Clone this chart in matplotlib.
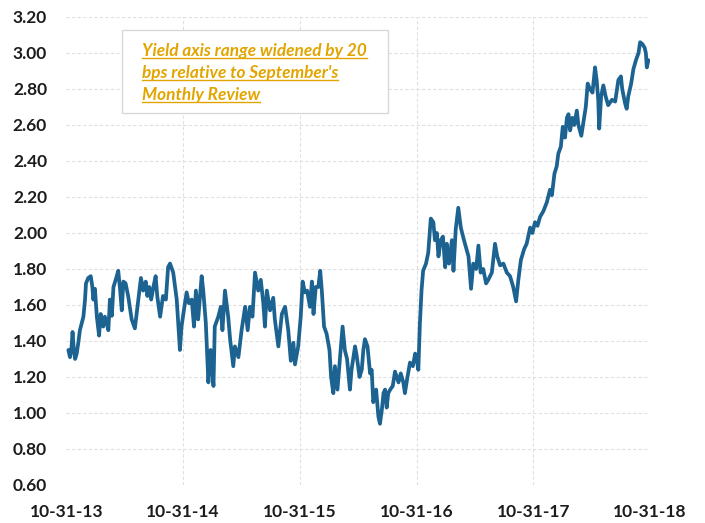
import matplotlib
matplotlib.use("Agg")
import matplotlib.pyplot as plt
import pandas as pd
from matplotlib.lines import Line2D
from matplotlib.patches import Rectangle

# Five-year yield, sampled observations
dates = [
    "2013-11-06", "2013-11-11", "2013-11-16", "2013-11-19", "2013-11-23", "2013-11-27",
    "2013-12-02", "2013-12-07", "2013-12-12", "2013-12-23", "2013-12-28", "2013-12-31",
    "2014-01-07", "2014-01-15", "2014-01-20", "2014-01-23", "2014-01-28", "2014-02-03",
    "2014-02-10", "2014-02-15", "2014-02-23", "2014-02-28", "2014-03-06", "2014-03-11",
    "2014-03-16", "2014-03-22", "2014-03-27", "2014-04-03", "2014-04-11", "2014-04-17",
    "2014-04-22", "2014-04-27", "2014-05-04", "2014-05-12", "2014-05-23", "2014-06-02",
    "2014-06-13", "2014-06-21", "2014-06-28", "2014-07-06", "2014-07-11", "2014-07-17",
    "2014-07-23", "2014-07-30", "2014-08-06", "2014-08-11", "2014-08-20", "2014-08-29",
    "2014-09-07", "2014-09-14", "2014-09-20", "2014-09-30", "2014-10-11", "2014-10-21",
    "2014-10-26", "2014-11-04", "2014-11-11", "2014-11-18", "2014-11-27", "2014-12-04",
    "2014-12-10", "2014-12-17", "2014-12-28", "2015-01-02", "2015-01-10", "2015-01-18",
    "2015-01-25", "2015-02-03", "2015-02-07", "2015-02-18", "2015-02-26", "2015-03-03",
    "2015-03-11", "2015-03-21", "2015-03-27", "2015-04-06", "2015-04-11", "2015-04-22",
    "2015-05-02", "2015-05-13", "2015-05-21", "2015-05-28", "2015-06-05", "2015-06-13",
    "2015-06-23", "2015-07-01", "2015-07-09", "2015-07-14", "2015-07-20", "2015-07-30",
    "2015-08-09", "2015-08-14", "2015-08-25", "2015-09-05", "2015-09-15", "2015-09-25",
    "2015-10-03", "2015-10-11", "2015-10-16", "2015-10-26", "2015-11-03", "2015-11-09",
    "2015-11-16", "2015-11-23", "2015-12-02", "2015-12-08", "2015-12-13", "2015-12-20",
    "2015-12-28", "2016-01-03", "2016-01-08", "2016-01-15", "2016-01-23", "2016-02-01",
    "2016-02-06", "2016-02-13", "2016-02-18", "2016-02-26", "2016-03-05", "2016-03-13",
    "2016-03-20", "2016-03-27", "2016-04-05", "2016-04-10", "2016-04-21", "2016-04-26",
    "2016-05-05", "2016-05-12", "2016-05-17", "2016-05-22", "2016-05-30", "2016-06-07",
    "2016-06-12", "2016-06-17", "2016-06-26", "2016-07-03", "2016-07-08", "2016-07-14",
    "2016-07-19", "2016-07-24", "2016-07-29", "2016-08-03", "2016-08-09", "2016-08-17",
    "2016-08-24", "2016-09-04", "2016-09-11", "2016-09-19", "2016-09-24", "2016-10-02",
    "2016-10-10", "2016-10-19", "2016-10-26", "2016-10-31", "2016-11-05", "2016-11-10",
    "2016-11-15", "2016-11-20", "2016-11-29", "2016-12-06", "2016-12-14", "2016-12-22",
    "2016-12-27", "2017-01-02", "2017-01-07", "2017-01-14", "2017-01-21", "2017-01-28",
    "2017-02-02", "2017-02-09", "2017-02-18", "2017-02-23", "2017-03-02", "2017-03-10",
    "2017-03-18", "2017-03-25", "2017-03-31", "2017-04-11", "2017-04-19", "2017-04-26",
    "2017-05-05", "2017-05-12", "2017-05-19", "2017-05-27", "2017-06-05", "2017-06-12",
    "2017-06-23", "2017-07-03", "2017-07-10", "2017-07-19", "2017-07-29", "2017-08-09",
    "2017-08-19", "2017-08-29", "2017-09-07", "2017-09-14", "2017-09-22", "2017-10-02",
    "2017-10-10", "2017-10-21", "2017-10-28", "2017-11-05", "2017-11-13", "2017-11-21",
    "2017-12-01", "2017-12-12", "2017-12-22", "2017-12-28", "2018-01-05", "2018-01-12",
    "2018-01-17", "2018-01-25", "2018-01-31", "2018-02-07", "2018-02-13", "2018-02-18",
    "2018-02-23", "2018-03-02", "2018-03-08", "2018-03-16", "2018-03-21", "2018-03-30",
    "2018-04-06", "2018-04-13", "2018-04-19", "2018-04-26", "2018-05-04", "2018-05-12",
    "2018-05-17", "2018-05-22", "2018-05-25", "2018-05-31", "2018-06-07", "2018-06-14",
    "2018-06-22", "2018-07-04", "2018-07-14", "2018-07-24", "2018-08-01", "2018-08-05",
    "2018-08-14", "2018-08-19", "2018-08-24", "2018-09-02", "2018-09-09", "2018-09-17",
    "2018-09-25", "2018-09-30", "2018-10-07", "2018-10-14", "2018-10-18", "2018-10-21",
    "2018-10-26",
]

yields = [
    1.35, 1.31, 1.37, 1.45, 1.35, 1.30,
    1.33, 1.39, 1.46, 1.535, 1.63, 1.72,
    1.75, 1.76, 1.70, 1.63, 1.69, 1.535,
    1.43, 1.55, 1.48, 1.535, 1.50, 1.46,
    1.63, 1.54, 1.70, 1.74, 1.79, 1.68,
    1.57, 1.73, 1.72, 1.65, 1.52, 1.47,
    1.63, 1.75, 1.68, 1.73, 1.65, 1.70,
    1.63, 1.70, 1.76, 1.65, 1.535, 1.65,
    1.63, 1.81, 1.83, 1.78, 1.63, 1.35,
    1.48, 1.59, 1.67, 1.61, 1.63, 1.48,
    1.68, 1.52, 1.76, 1.68, 1.50, 1.17,
    1.35, 1.15, 1.48, 1.535, 1.59, 1.46,
    1.68, 1.535, 1.41, 1.26, 1.37, 1.31,
    1.46, 1.59, 1.46, 1.59, 1.535, 1.78,
    1.68, 1.74, 1.61, 1.48, 1.68, 1.57,
    1.64, 1.52, 1.37, 1.55, 1.59, 1.46,
    1.29, 1.39, 1.27, 1.37, 1.535, 1.73,
    1.67, 1.68, 1.59, 1.73, 1.55, 1.70,
    1.70, 1.79, 1.68, 1.48, 1.44, 1.35,
    1.20, 1.11, 1.26, 1.13, 1.31, 1.48,
    1.35, 1.30, 1.13, 1.24, 1.37, 1.32,
    1.20, 1.24, 1.35, 1.41, 1.37, 1.22,
    1.24, 1.06, 1.13, 0.98, 0.94, 1.02,
    1.11, 1.13, 1.03, 1.11, 1.13, 1.15,
    1.23, 1.17, 1.22, 1.17, 1.11, 1.20,
    1.28, 1.26, 1.33, 1.30, 1.24, 1.50,
    1.68, 1.79, 1.83, 1.89, 2.08, 2.06,
    1.96, 2.00, 1.87, 1.96, 1.98, 1.81,
    1.94, 1.83, 1.96, 1.79, 2.02, 2.14,
    2.03, 1.98, 1.94, 1.87, 1.69, 1.83,
    1.80, 1.93, 1.78, 1.80, 1.72, 1.74,
    1.78, 1.94, 1.87, 1.82, 1.83, 1.78,
    1.76, 1.70, 1.62, 1.74, 1.85, 1.91,
    1.94, 2.03, 2.00, 2.06, 2.04, 2.09,
    2.12, 2.17, 2.24, 2.21, 2.33, 2.37,
    2.44, 2.48, 2.59, 2.53, 2.64, 2.66,
    2.57, 2.64, 2.60, 2.68, 2.60, 2.54,
    2.62, 2.70, 2.83, 2.80, 2.78, 2.92,
    2.85, 2.74, 2.58, 2.76, 2.82, 2.76,
    2.71, 2.74, 2.73, 2.85, 2.87, 2.80,
    2.72, 2.69, 2.76, 2.83, 2.91, 2.96,
    3.00, 3.06, 3.05, 3.03, 3.00, 2.92,
    2.96,
]

tick_dates = ["2013-10-31", "2014-10-31", "2015-10-31", "2016-10-31", "2017-10-31", "2018-10-31"]
tick_labels = ["10-31-13", "10-31-14", "10-31-15", "10-31-16", "10-31-17", "10-31-18"]
y_ticks = [0.60, 0.80, 1.00, 1.20, 1.40, 1.60, 1.80, 2.00, 2.20, 2.40, 2.60, 2.80, 3.00, 3.20]
note_lines = ["Yield axis range widened by 20", "bps relative to September's", "Monthly Review"]

LINE_COLOR = "#1d6392"
NOTE_COLOR = "#e2a500"
TEXT_COLOR = "#1c1c1c"
FONT = ["Lato", "DejaVu Sans"]

plt.rcParams["font.family"] = FONT

fig = plt.figure(figsize=(7.05, 5.23), dpi=100)
ax = fig.add_axes([0.0943, 0.0727, 0.8277, 0.8948])

ax.plot(pd.to_datetime(dates), yields, color=LINE_COLOR, lw=2.7,
        solid_joinstyle="round", solid_capstyle="round", zorder=3)

ax.set_xlim(pd.Timestamp(tick_dates[0]), pd.Timestamp(tick_dates[-1]))
ax.set_ylim(y_ticks[0], y_ticks[-1])
ax.set_yticks(y_ticks)
ax.set_yticklabels([f"{v:.2f}" for v in y_ticks])
ax.set_xticks(pd.to_datetime(tick_dates))
ax.set_xticklabels(tick_labels)

for s in ax.spines.values():
    s.set_visible(False)
ax.tick_params(axis="both", length=0, labelsize=12.5, colors=TEXT_COLOR)
ax.tick_params(axis="y", pad=14)
ax.tick_params(axis="x", pad=14)
for lbl in ax.get_xticklabels() + ax.get_yticklabels():
    lbl.set_fontweight("bold")

ax.grid(True, color="#e0e0e0", lw=0.8, ls=(0, (3, 2)))
ax.set_axisbelow(True)
xg = ax.get_xgridlines()
xg[0].set_visible(False)
xg[-1].set_visible(False)

# Note box
W, H = 705, 523
box = Rectangle((122 / W, 1 - 113 / H), 266 / W, 83 / H, transform=fig.transFigure,
                facecolor="white", edgecolor="#d6d6d6", lw=0.9, zorder=5)
fig.add_artist(box)

baselines = [56, 78, 100]
texts = []
for line, yb in zip(note_lines, baselines):
    t = fig.text(142 / W, 1 - yb / H, line, color=NOTE_COLOR, fontsize=12.4,
                 fontstyle="italic", fontweight="bold", ha="left", va="baseline",
                 zorder=6)
    texts.append((t, yb))

fig.canvas.draw()
renderer = fig.canvas.get_renderer()
for t, yb in texts:
    bb = t.get_window_extent(renderer)
    yu = 1 - (yb + 2.4) / H
    fig.add_artist(Line2D([bb.x0 / W, bb.x1 / W], [yu, yu], transform=fig.transFigure,
                          color=NOTE_COLOR, lw=1.0, zorder=6))

fig.savefig("out.png", dpi=100)
